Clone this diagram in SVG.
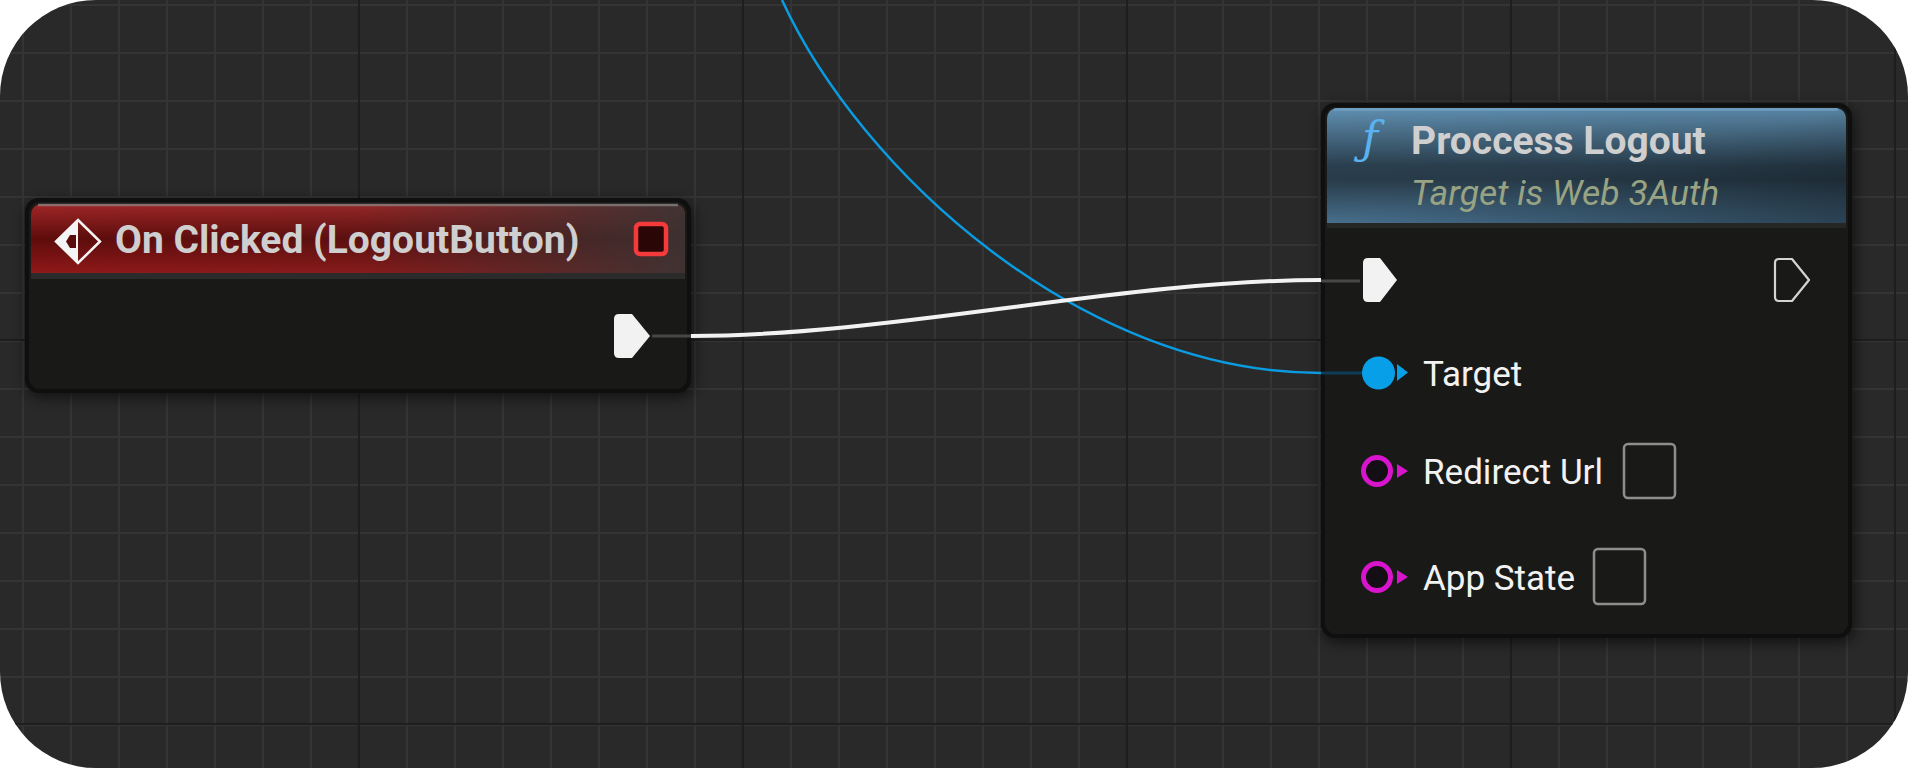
<svg xmlns="http://www.w3.org/2000/svg" width="1908" height="768" viewBox="0 0 1908 768">
  <defs>
    <style>
      .title { font-family: Roboto, "Liberation Sans", sans-serif; font-weight: bold; font-size: 39px; fill: #cfcfcf; }
      .sub { font-family: Roboto, "Liberation Sans", sans-serif; font-style: italic; font-size: 35.5px; fill: #98a383; }
      .pin { font-family: Roboto, "Liberation Sans", sans-serif; font-size: 35px; fill: #f2f2f2; }
      .nodeOuter { fill: #0e0f0e; }
      .nodeBody { fill: #1a1b19; fill-opacity: 0.95; }
      .stub { stroke: #474747; stroke-width: 3; }
      .ring { fill: #140f14; stroke: #d814cc; stroke-width: 5; }
      .box { fill: none; stroke: #8e8e8e; stroke-width: 2.5; }
    </style>
    <pattern id="gMinor" x="22" y="4" width="48" height="48" patternUnits="userSpaceOnUse">
      <rect width="48" height="48" fill="#292929"/>
      <rect width="2" height="48" fill="#343434"/>
      <rect width="48" height="2" fill="#343434"/>
    </pattern>
    <pattern id="gMajor" x="358" y="339" width="384" height="384" patternUnits="userSpaceOnUse">
      <rect width="2" height="384" fill="#1e1e1e"/>
      <rect width="384" height="2" fill="#1e1e1e"/>
    </pattern>
    <linearGradient id="redV" x1="0" y1="0" x2="0" y2="1">
      <stop offset="0" stop-color="#a02626"/>
      <stop offset="0.5" stop-color="#5e0c0c"/>
      <stop offset="1" stop-color="#901818"/>
    </linearGradient>
    <linearGradient id="redH" x1="0" y1="0" x2="1" y2="0">
      <stop offset="0" stop-color="#383232" stop-opacity="0"/>
      <stop offset="0.5" stop-color="#383232" stop-opacity="0.1"/>
      <stop offset="1" stop-color="#3a3434" stop-opacity="0.92"/>
    </linearGradient>
    <linearGradient id="blueV" x1="0" y1="0" x2="0" y2="1">
      <stop offset="0" stop-color="#6090b2"/>
      <stop offset="0.5" stop-color="#2c4252"/>
      <stop offset="0.62" stop-color="#2a3e4c"/>
      <stop offset="1" stop-color="#4d7898"/>
    </linearGradient>
    <linearGradient id="blueH" x1="0" y1="0" x2="1" y2="1">
      <stop offset="0" stop-color="#000" stop-opacity="0"/>
      <stop offset="0.5" stop-color="#000" stop-opacity="0.08"/>
      <stop offset="1" stop-color="#000" stop-opacity="0.45"/>
    </linearGradient>
    <filter id="shadow" x="-10%" y="-10%" width="120%" height="130%">
      <feGaussianBlur stdDeviation="7"/>
    </filter>
  </defs>

  <!-- background -->
  <rect width="1908" height="768" fill="#ffffff"/>
  <rect width="1908" height="768" rx="96" fill="url(#gMinor)"/>
  <rect width="1908" height="768" rx="96" fill="url(#gMajor)"/>

  <!-- node 1 -->
  <g id="node-onclicked">
    <rect x="27" y="202" width="666" height="195" rx="14" fill="#000" opacity="0.6" filter="url(#shadow)"/>
    <rect class="nodeOuter" x="25" y="198" width="666" height="195" rx="14"/>
    <rect class="nodeBody" x="29" y="202" width="658" height="187" rx="11"/>
    <path d="M31,273 V216 Q31,204 43,204 H673 Q685,204 685,216 V273 Z" fill="url(#redV)"/>
    <path d="M31,273 V216 Q31,204 43,204 H673 Q685,204 685,216 V273 Z" fill="url(#redH)"/>
    <path d="M38,205 H678" stroke="#8a8a8a" stroke-width="2.5" opacity="0.7"/>
    <rect x="31" y="273" width="654" height="6" fill="#2a2b2a"/>
    <!-- event icon -->
    <path d="M78,220 L100,241.5 L78,263 L56,241.5 Z" fill="none" stroke="#f4f4f4" stroke-width="2.5" stroke-linejoin="miter"/>
    <path d="M78,220 L78,263 L56,241.5 Z" fill="#f4f4f4"/>
    <path d="M66,241.5 L70,235 L76,235 L76,248 L70,248 Z" fill="#5a0c0c"/>
    <text class="title" x="115" y="253">On Clicked (LogoutButton)</text>
    <rect x="636" y="224" width="30" height="30" rx="4" fill="#2b0606" stroke="#f43a3a" stroke-width="4.5"/>
    <path d="M614,319 Q614,314 619,314 H632 L650,336 L632,358 H619 Q614,358 614,353 Z" fill="#f2f2f2"/>
    <line class="stub" x1="652" y1="336" x2="691" y2="336"/>
  </g>

  <!-- node 2 -->
  <g id="node-processlogout">
    <rect x="1323" y="107" width="531" height="535" rx="14" fill="#000" opacity="0.6" filter="url(#shadow)"/>
    <rect class="nodeOuter" x="1321" y="103" width="531" height="535" rx="14"/>
    <rect class="nodeBody" x="1325" y="107" width="523" height="527" rx="11"/>
    <path d="M1327,223 V120 Q1327,108 1339,108 H1834 Q1846,108 1846,120 V223 Z" fill="url(#blueV)"/>
    <path d="M1327,223 V120 Q1327,108 1339,108 H1834 Q1846,108 1846,120 V223 Z" fill="url(#blueH)"/>
    <path d="M1334,109.5 H1838" stroke="#74a4c8" stroke-width="2.5" opacity="0.8"/>
    <rect x="1327" y="223" width="519" height="5" fill="#252725"/>
    <text x="1362" y="153" font-family="'DejaVu Serif', serif" font-style="italic" font-size="44" fill="#5ab2f0">ƒ</text>
    <text class="title" x="1411" y="154">Proccess Logout</text>
    <text class="sub" x="1411" y="205">Target is Web 3Auth</text>

    <line class="stub" x1="1321" y1="281" x2="1360" y2="281"/>
    <path d="M1363,263 Q1363,258 1368,258 H1380 L1397,280 L1380,302 H1368 Q1363,302 1363,297 Z" fill="#f2f2f2"/>
    <path d="M1775,263 Q1775,259 1779,259 H1792 L1809,280 L1792,301 H1779 Q1775,301 1775,297 Z" fill="none" stroke="#d4d4d4" stroke-width="2.2" stroke-linejoin="round"/>

    <line x1="1321" y1="373" x2="1362" y2="373" stroke="#0d3c58" stroke-width="3"/>
    <circle cx="1378.5" cy="373" r="16.5" fill="#07a0e8"/>
    <path d="M1397,364 L1408,372.5 L1397,381 Z" fill="#07a0e8"/>
    <text class="pin" x="1423" y="386">Target</text>

    <circle class="ring" cx="1377" cy="471" r="13.5"/>
    <path d="M1397,464 L1408,471 L1397,478 Z" fill="#d814cc"/>
    <text class="pin" x="1423" y="484">Redirect Url</text>
    <rect class="box" x="1624" y="444" width="51" height="54" rx="4"/>

    <circle class="ring" cx="1377" cy="577" r="13.5"/>
    <path d="M1397,570 L1408,577 L1397,584 Z" fill="#d814cc"/>
    <text class="pin" x="1423" y="590">App State</text>
    <rect class="box" x="1594" y="549" width="51" height="55" rx="4"/>
  </g>

  <!-- connectors -->
  <g id="connectors" fill="none">
    <path d="M782,0 C860,170 1080,373 1321,373" stroke="#0a9be0" stroke-width="2.5"/>
    <path d="M691,336 C891,336 1121,280 1321,280" stroke="#f2f2f2" stroke-width="4"/>
  </g>
</svg>
